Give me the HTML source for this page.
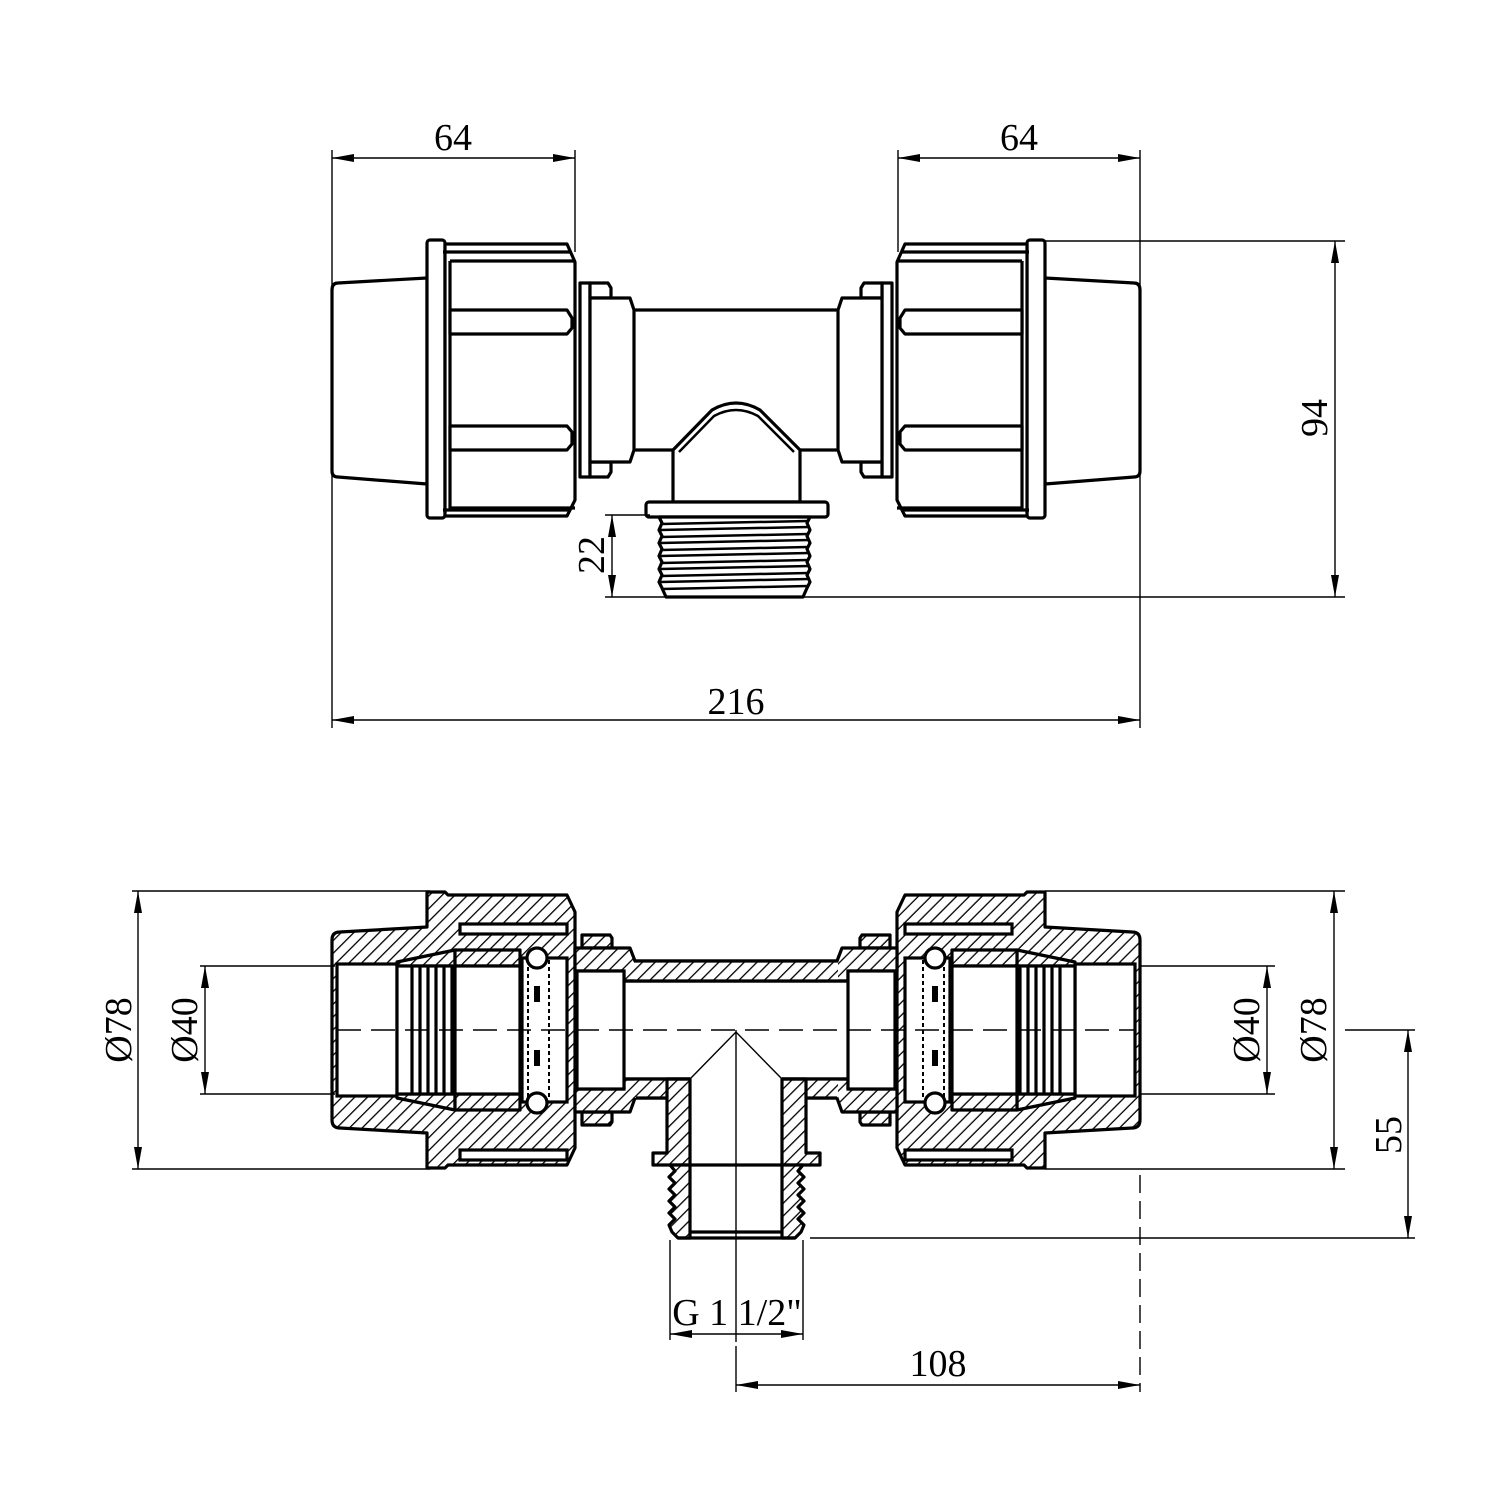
<!DOCTYPE html>
<html><head><meta charset="utf-8"><style>
html,body{margin:0;padding:0;background:#fff}
svg{display:block}
text{font-family:"Liberation Serif",serif;font-size:38px;fill:#000}
.o{fill:#fff;stroke:#000;stroke-width:3.2;stroke-linejoin:round}
.h{fill:var(--h,url(#hA));stroke:#000;stroke-width:3.2;stroke-linejoin:round}
.w{fill:#fff;stroke:#000;stroke-width:3.2}
.l{fill:none;stroke:#000;stroke-width:3.2}
.t{fill:none;stroke:#000;stroke-width:1.4}
.d{fill:none;stroke:#000;stroke-width:1.4;marker-start:url(#ar);marker-end:url(#ar)}
</style></head><body>
<svg width="1500" height="1500" viewBox="0 0 1500 1500" xmlns="http://www.w3.org/2000/svg">
<defs>
<pattern id="hA" patternUnits="userSpaceOnUse" width="9" height="9" patternTransform="rotate(45)"><rect width="9" height="9" fill="#fff"/><line x1="0" y1="0" x2="0" y2="9" stroke="#000" stroke-width="2.6"/></pattern>
<pattern id="hB" patternUnits="userSpaceOnUse" width="9" height="9" patternTransform="rotate(-45)"><rect width="9" height="9" fill="#fff"/><line x1="0" y1="0" x2="0" y2="9" stroke="#000" stroke-width="2.6"/></pattern>
<marker id="ar" markerWidth="22" markerHeight="8" refX="22" refY="4" orient="auto-start-reverse" markerUnits="userSpaceOnUse"><path d="M0,0 L22,4 L0,8 z" fill="#000"/></marker>

<g id="TL">
 <path class="o" d="M427,278 L338,283 Q332,283 332,290 L332,471 Q332,477 338,477 L427,484 Z"/>
 <rect class="o" x="427" y="240" width="18" height="278" rx="3"/>
 <path class="o" d="M445,244 L567,244 L575,262 L575,500 L567,516 L445,516 Z"/>
 <path class="l" d="M443,252 L571,252 M450,261 L575,261 M450,261 L450,508 L575,508 M443,510 L571,510"/>
 <path class="o" d="M450,310 L567,310 L572,318 L572,328 L567,334 L450,334 Z"/>
 <path class="o" d="M450,426 L567,426 L572,432 L572,444 L567,450 L450,450 Z"/>
 <rect class="o" x="580" y="283" width="10" height="194"/>
 <path class="o" d="M590,283 L608,283 L611,288 L611,298 L590,298 Z M590,462 L611,462 L611,472 L608,477 L590,477 Z"/>
 <path class="o" d="M590,298 L630,298 L634,310 L634,450 L630,462 L590,462 Z"/>
 <path class="l" d="M634,310 L736,310 M634,450 L736,450"/>
</g>

<g id="BL">
 <path class="h" d="M332,940 Q332,932 340,932 L427,927 L427,892 L445,892 L448,895 L567,895 L575,912 L575,1148 L567,1165 L448,1165 L445,1168 L427,1168 L427,1133 L340,1128 Q332,1128 332,1120 Z"/>
 <rect class="w" x="460" y="924" width="107" height="10"/>
 <rect class="w" x="460" y="1150" width="107" height="10"/>
 <rect class="w" x="337" y="964" width="60" height="132"/>
 <path class="h" d="M397,962 L455,950 L455,966 L397,966 Z M397,1094 L455,1094 L455,1110 L397,1098 Z"/>
 <path class="h" d="M455,950 L520,950 L520,966 L455,966 Z M455,1094 L520,1094 L520,1110 L455,1110 Z"/>
 <rect class="w" x="397" y="966" width="58" height="128"/>
 <path class="l" d="M412,966 L412,1094 M420,966 L420,1094 M428,966 L428,1094 M436,966 L436,1094 M444,966 L444,1094 M452,966 L452,1094"/>
 <rect class="w" x="455" y="966" width="65" height="128"/>
 <rect class="w" x="522" y="958" width="45" height="144"/>
 <line x1="528" y1="960" x2="528" y2="1100" stroke="#000" stroke-width="2" stroke-dasharray="4,3"/>
 <line x1="549" y1="960" x2="549" y2="1100" stroke="#000" stroke-width="2" stroke-dasharray="4,3"/>
 <circle class="w" cx="537" cy="958" r="10"/>
 <circle class="w" cx="537" cy="1103" r="10"/>
 <rect x="534" y="986" width="6" height="16" fill="#000"/>
 <rect x="534" y="1050" width="6" height="16" fill="#000"/>
 <path class="h" d="M582,935 L610,935 L612,938 L612,948 L582,948 Z M582,1112 L612,1112 L612,1122 L610,1125 L582,1125 Z"/>
 <path class="h" d="M575,948 L630,948 L635,961 L736,961 L736,981 L624,981 L624,971 L575,971 Z"/>
 <path class="h" d="M575,1089 L624,1089 L624,1079 L736,1079 L736,1098 L635,1098 L630,1112 L575,1112 Z"/>
 <rect class="w" x="577" y="971" width="47" height="118"/>
</g>
</defs>

<!-- TOP VIEW -->
<use href="#TL"/>
<use href="#TL" transform="matrix(-1 0 0 1 1472 0)"/>
<path class="o" d="M673,450 L673,502 L800,502 L800,450 L760,410 Q736,396 712,410 Z"/>
<path class="l" d="M679,452 L714,416 Q736,404 758,416 L794,452" style="stroke-width:2.5"/>
<rect class="o" x="646" y="502" width="182" height="15" rx="3"/>
<path class="o" d="M659,517 L810,517 L807,523 L810,530 L807,536 L810,543 L807,549 L810,556 L807,562 L810,569 L807,575 L810,582 L807,588 L803,597 L666,597 L662,588 L659,582 L662,575 L659,569 L662,562 L659,556 L662,549 L659,543 L662,536 L659,530 L662,523 Z"/>
<path class="l" style="stroke-width:2.5" d="M661,524 L808,521 M660,530 L809,527 M661,537 L808,534 M660,543 L809,540 M661,550 L808,547 M660,556 L809,553 M661,563 L808,560 M660,569 L809,566 M661,576 L808,573 M660,582 L809,579 M661,589 L808,586"/>

<!-- top dims -->
<path class="t" d="M332,150 L332,728 M575,150 L575,252 M898,150 L898,252 M1140,150 L1140,728 M1045,241 L1345,241 M605,597 L1345,597 M605,515 L650,515"/>
<line class="d" x1="332" y1="158" x2="575" y2="158"/>
<line class="d" x1="898" y1="158" x2="1140" y2="158"/>
<line class="d" x1="332" y1="720" x2="1140" y2="720"/>
<line class="d" x1="1335" y1="241" x2="1335" y2="597"/>
<line class="d" x1="612" y1="515" x2="612" y2="597"/>
<text x="453" y="150" text-anchor="middle">64</text>
<text x="1019" y="150" text-anchor="middle">64</text>
<text x="736" y="714" text-anchor="middle">216</text>
<text transform="translate(1327,418) rotate(-90)" text-anchor="middle">94</text>
<text transform="translate(604,555) rotate(-90)" text-anchor="middle">22</text>

<!-- BOTTOM SECTION -->
<use href="#BL"/>
<use href="#BL" transform="matrix(-1 0 0 1 1472 0)" style="--h:url(#hB)"/>
<rect x="634" y="961" width="204" height="20" fill="url(#hA)"/>
<path class="l" d="M634,961 L838,961 M624,981 L848,981"/>
<rect x="634" y="1079" width="204" height="19" fill="url(#hA)"/>
<rect x="690" y="1076" width="92" height="25" fill="#fff"/>
<path class="h" d="M667,1098 L667,1153 L653,1153 L653,1165 L690,1165 L690,1079 L667,1079 Z"/>
<path class="h" d="M806,1098 L806,1153 L820,1153 L820,1165 L782,1165 L782,1079 L806,1079 Z"/>
<path class="l" d="M624,1079 L690,1079 M782,1079 L848,1079 M636,1098 L667,1098 M806,1098 L837,1098"/>
<path class="h" d="M690,1165 L670,1165 L675,1171 L669,1177 L675,1183 L669,1189 L675,1195 L669,1201 L675,1207 L669,1213 L675,1219 L669,1225 L672,1232 L678,1238 L690,1238 Z"/>
<path class="h" d="M782,1165 L803,1165 L798,1171 L804,1177 L798,1183 L804,1189 L798,1195 L804,1201 L798,1207 L804,1213 L798,1219 L804,1225 L801,1232 L795,1238 L782,1238 Z"/>
<path class="l" d="M690,1165 L782,1165 M690,1232 L782,1232 M678,1238 L795,1238"/>
<path class="t" d="M690,1079 L736,1032 L782,1079 M736,1030 L736,1342 M736,1346 L736,1392"/>
<line x1="337" y1="1030" x2="1135" y2="1030" stroke="#000" stroke-width="1.4" stroke-dasharray="24,10"/>

<!-- bottom dims -->
<path class="t" d="M132,891 L430,891 M1045,891 L1345,891 M132,1169 L430,1169 M1045,1169 L1345,1169 M200,966 L335,966 M200,1094 L335,1094 M1140,966 L1275,966 M1140,1094 L1275,1094 M1345,1030 L1415,1030 M810,1238 L1415,1238 M670,1240 L670,1340 M803,1240 L803,1340"/>
<line x1="1140" y1="1175" x2="1140" y2="1392" stroke="#000" stroke-width="1.4" stroke-dasharray="18,8"/>
<line class="d" x1="138" y1="891" x2="138" y2="1169"/>
<line class="d" x1="205" y1="966" x2="205" y2="1094"/>
<line class="d" x1="1267" y1="966" x2="1267" y2="1094"/>
<line class="d" x1="1334" y1="891" x2="1334" y2="1169"/>
<line class="d" x1="1408" y1="1030" x2="1408" y2="1238"/>
<line class="d" x1="670" y1="1334" x2="803" y2="1334"/>
<line class="d" x1="736" y1="1385" x2="1140" y2="1385"/>
<text transform="translate(131,1030) rotate(-90)" text-anchor="middle">Ø78</text>
<text transform="translate(197,1030) rotate(-90)" text-anchor="middle">Ø40</text>
<text transform="translate(1259,1030) rotate(-90)" text-anchor="middle">Ø40</text>
<text transform="translate(1326,1030) rotate(-90)" text-anchor="middle">Ø78</text>
<text transform="translate(1401,1135) rotate(-90)" text-anchor="middle">55</text>
<text x="737" y="1325" text-anchor="middle">G 1 1/2"</text>
<text x="938" y="1376" text-anchor="middle">108</text>
</svg>
</body></html>
